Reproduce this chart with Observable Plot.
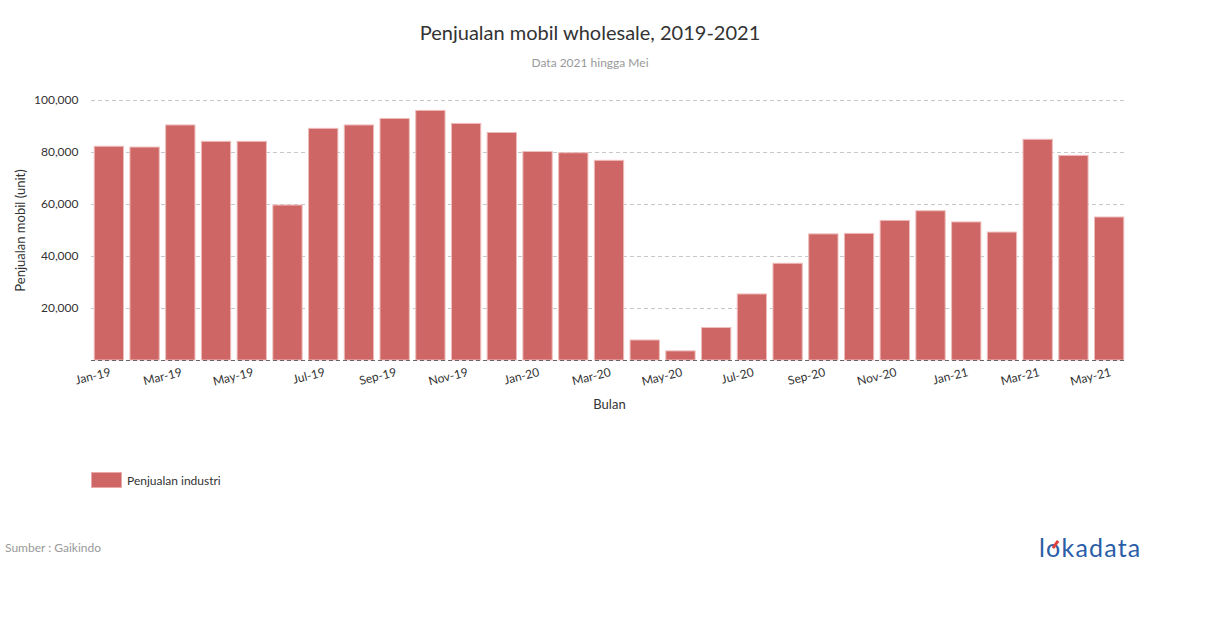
<!DOCTYPE html>
<html>
<head>
<meta charset="utf-8">
<script src="https://cdn.jsdelivr.net/npm/d3@7"></script>
<script src="https://cdn.jsdelivr.net/npm/@observablehq/plot@0.6"></script>
<style>
  html, body { margin: 0; padding: 0; background: #fff; }
  body { width: 1210px; height: 628px; position: relative; font-family: Lato, "Open Sans", sans-serif; overflow: hidden; }
  .abs { position: absolute; white-space: nowrap; }
  #title { top: 20px; left: 0; width: 1180px; text-align: center; font-size: 20px; color: #333; }
  #subtitle { top: 55px; left: 0; width: 1180px; text-align: center; font-size: 12px; color: #999; }
  #chart { position: absolute; left: 0; top: 85px; }
  #legend { top: 472px; left: 91px; display: flex; align-items: center; font-size: 12px; color: #333; }
  #legend .sw { width: 31px; height: 16px; background: #cd6664; border: 1px solid #e9a9a8; margin-right: 5px; box-sizing: border-box; }
  #source { top: 540px; left: 5px; font-size: 12px; color: #999; }
  #logo { top: 532px; left: 1039px; font-size: 25px; color: #2b5ea7; font-family: Lato, sans-serif; letter-spacing: 1.2px; }
  #logo .o { color: #2b5ea7; position: relative; }
  #logo .o::after { content: ""; position: absolute; left: 8px; top: 8px; width: 3px; height: 9px; background: #e0413a; transform: rotate(35deg); }
</style>
</head>
<body>
<div id="title" class="abs">Penjualan mobil wholesale, 2019-2021</div>
<div id="subtitle" class="abs">Data 2021 hingga Mei</div>
<div id="chart"></div>
<div id="legend" class="abs"><div class="sw"></div><span>Penjualan industri</span></div>
<div id="source" class="abs">Sumber : Gaikindo</div>
<div id="logo" class="abs">l<span class="o">o</span>kadata</div>
<script>
const months = ["Jan-19","Feb-19","Mar-19","Apr-19","May-19","Jun-19","Jul-19","Aug-19","Sep-19","Oct-19","Nov-19","Dec-19",
  "Jan-20","Feb-20","Mar-20","Apr-20","May-20","Jun-20","Jul-20","Aug-20","Sep-20","Oct-20","Nov-20","Dec-20",
  "Jan-21","Feb-21","Mar-21","Apr-21","May-21"];
const sales = [82200, 81900, 90400, 84100, 84100, 59600, 89100, 90400, 92900, 96000, 91000, 87500,
  80200, 79700, 76800, 7700, 3500, 12500, 25400, 37200, 48500, 48700, 53700, 57400,
  53100, 49200, 84900, 78700, 55000];
const xTickLabels = ["Jan-19","Mar-19","May-19","Jul-19","Sep-19","Nov-19","Jan-20","Mar-20","May-20","Jul-20","Sep-20","Nov-20","Jan-21","Mar-21","May-21"];
const yTicks = [20000, 40000, 60000, 80000, 100000];
const seriesName = "Penjualan industri";
const xAxisTitle = "Bulan";
const yAxisTitle = "Penjualan mobil (unit)";

const data = months.map((m, i) => ({month: m, value: sales[i]}));
const fmt = d3.format(",");

const chart = Plot.plot({
  width: 1210,
  height: 335,
  marginLeft: 91,
  marginRight: 83,
  marginTop: 15,
  marginBottom: 60,
  style: {fontFamily: "Lato, 'Open Sans', sans-serif", fontSize: "12px", color: "#333", background: "transparent"},
  x: {type: "band", domain: months, paddingInner: 0.18, paddingOuter: 0.09, round: false, axis: null},
  y: {domain: [0, 100000], axis: null},
  marks: [
    Plot.gridY(yTicks, {stroke: "#c8c8c8", strokeOpacity: 1, strokeDasharray: "4,3"}),
    Plot.barY(data, {x: "month", y: "value", fill: "#cd6664", stroke: "#eebcbb", strokeWidth: 1, title: d => `${d.month}: ${fmt(d.value)}`}),
    Plot.ruleY([0], {stroke: "#666", strokeDasharray: "4,3"}),
    Plot.axisY(yTicks, {tickSize: 0, tickPadding: 13, tickFormat: fmt, fontSize: 12, fill: "#333", label: null}),
    Plot.text(xTickLabels, {x: d => d, y: 0, text: d => d, rotate: -14, textAnchor: "end", lineAnchor: "top", dx: 0, dy: 7, fontSize: 12, fill: "#333"}),
    Plot.text([xAxisTitle], {frameAnchor: "bottom", text: d => d, dy: 48, fontSize: 13, fill: "#333"}),
    Plot.text([yAxisTitle], {frameAnchor: "left", text: d => d, rotate: -90, textAnchor: "middle", dx: -71, fontSize: 13, fill: "#333"})
  ]
});
document.getElementById("chart").appendChild(chart);
</script>
</body>
</html>
